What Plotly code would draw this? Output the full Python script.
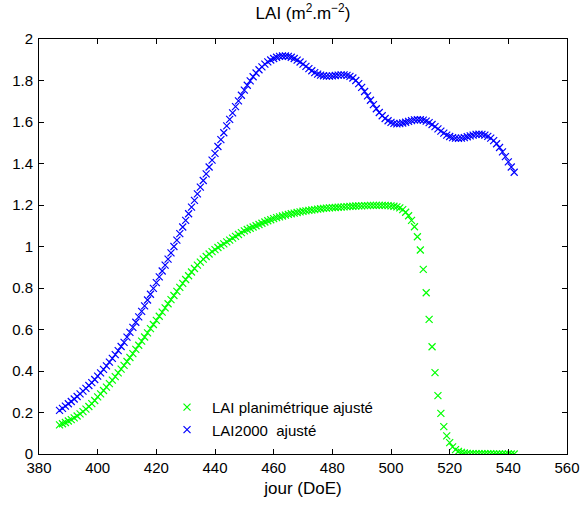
import plotly.graph_objects as go

days = list(range(387, 543))

lai2000 = [
    0.210, 0.220, 0.231, 0.242, 0.253, 0.265, 0.277, 0.290, 0.303, 0.316,
    0.330, 0.344, 0.359, 0.375, 0.391, 0.408, 0.425, 0.443, 0.461, 0.479,
    0.498, 0.518, 0.538, 0.563, 0.586, 0.610, 0.635, 0.661, 0.687, 0.714,
    0.742, 0.770, 0.798, 0.826, 0.854, 0.882, 0.910, 0.939, 0.969, 1.000,
    1.031, 1.062, 1.094, 1.126, 1.158, 1.190, 1.222, 1.254, 1.286, 1.318,
    1.350, 1.383, 1.416, 1.449, 1.482, 1.515, 1.548, 1.581, 1.613, 1.644,
    1.674, 1.702, 1.729, 1.754, 1.777, 1.798, 1.818, 1.836, 1.852, 1.866,
    1.879, 1.890, 1.899, 1.906, 1.912, 1.916, 1.918, 1.918, 1.916, 1.912,
    1.906, 1.898, 1.889, 1.879, 1.868, 1.857, 1.847, 1.838, 1.831, 1.826,
    1.823, 1.821, 1.821, 1.822, 1.824, 1.826, 1.827, 1.827, 1.825, 1.820,
    1.812, 1.800, 1.785, 1.767, 1.747, 1.726, 1.705, 1.684, 1.664, 1.646,
    1.630, 1.617, 1.606, 1.598, 1.593, 1.591, 1.592, 1.595, 1.599, 1.603,
    1.607, 1.610, 1.611, 1.611, 1.609, 1.604, 1.597, 1.588, 1.578, 1.567,
    1.556, 1.546, 1.537, 1.530, 1.525, 1.522, 1.521, 1.522, 1.525, 1.529,
    1.533, 1.537, 1.540, 1.541, 1.540, 1.537, 1.531, 1.522, 1.510, 1.495,
    1.477, 1.456, 1.433, 1.408, 1.383, 1.358,
]

lai_plan = [
    0.140, 0.146, 0.152, 0.159, 0.166, 0.174, 0.183, 0.193, 0.204, 0.216,
    0.229, 0.243, 0.258, 0.275, 0.290, 0.306, 0.322, 0.339, 0.356, 0.373,
    0.391, 0.409, 0.427, 0.446, 0.465, 0.484, 0.504, 0.524, 0.544, 0.564,
    0.584, 0.604, 0.624, 0.644, 0.664, 0.684, 0.704, 0.724, 0.744, 0.764,
    0.784, 0.803, 0.822, 0.841, 0.859, 0.877, 0.894, 0.910, 0.925, 0.939,
    0.952, 0.964, 0.975, 0.985, 0.995, 1.004, 1.013, 1.022, 1.031, 1.040,
    1.049, 1.058, 1.067, 1.075, 1.082, 1.088, 1.094, 1.100, 1.106, 1.112,
    1.118, 1.124, 1.129, 1.134, 1.139, 1.143, 1.147, 1.151, 1.155, 1.158,
    1.161, 1.164, 1.167, 1.170, 1.172, 1.174, 1.176, 1.178, 1.180, 1.182,
    1.184, 1.185, 1.186, 1.187, 1.188, 1.189, 1.190, 1.191, 1.192, 1.193,
    1.194, 1.195, 1.196, 1.196, 1.197, 1.197, 1.198, 1.198, 1.198, 1.198,
    1.198, 1.198, 1.197, 1.196, 1.194, 1.191, 1.186, 1.178, 1.165, 1.148,
    1.126, 1.095, 1.047, 0.983, 0.890, 0.777, 0.649, 0.517, 0.392, 0.281,
    0.196, 0.132, 0.087, 0.055, 0.034, 0.021, 0.013, 0.008, 0.005, 0.003,
    0.002, 0.002, 0.001, 0.001, 0.001, 0.001, 0.001, 0.001, 0.000, 0.000,
    0.000, 0.000, 0.000, 0.000, 0.000, 0.000,
]

names = ["LAI planimétrique ajusté", "LAI2000\u00a0\u00a0ajusté"]
colors = ["#00FF00", "#0000FF"]

FONT = "Liberation Sans, Arial, Helvetica, sans-serif"

fig = go.Figure()
for vals, name, col in zip([lai_plan, lai2000], names, colors):
    fig.add_trace(go.Scatter(
        x=days, y=vals, mode="markers", name=name,
        marker=dict(symbol="x-thin", size=7, color=col,
                    line=dict(color=col, width=1.2)),
    ))

axis_common = dict(
    showline=True, linecolor="black", linewidth=1, mirror="ticks",
    ticks="inside", ticklen=5, tickcolor="black", showgrid=False,
    zeroline=False, automargin=False,
    tickfont=dict(family=FONT, size=15, color="black"),
)

fig.update_layout(
    width=580, height=505,
    margin=dict(l=39, r=13, t=39, b=51, autoexpand=False),
    paper_bgcolor="white", plot_bgcolor="white",
    font=dict(family=FONT, size=15, color="black"),
    title=dict(text="LAI (m<sup>2</sup>.m<sup>−2</sup>)", xref="paper", x=0.5,
               xanchor="center", y=0.985, yanchor="top",
               font=dict(family=FONT, size=17, color="black")),
    xaxis=dict(range=[380, 560], dtick=20, tick0=380,
               title=dict(text="jour (DoE)", font=dict(family=FONT, size=17), standoff=7),
               **axis_common),
    yaxis=dict(range=[0, 2], dtick=0.2, tick0=0, ticklabelstandoff=2, **axis_common),
    legend=dict(x=0.233, y=0.152, xanchor="left", yanchor="top", itemwidth=40,
                bgcolor="rgba(0,0,0,0)", borderwidth=0, tracegroupgap=0,
                font=dict(family=FONT, size=15, color="black")),
    showlegend=True,
)

fig.write_html("out.html", config={"displayModeBar": False},
               post_script="document.body.style.margin='0';")
